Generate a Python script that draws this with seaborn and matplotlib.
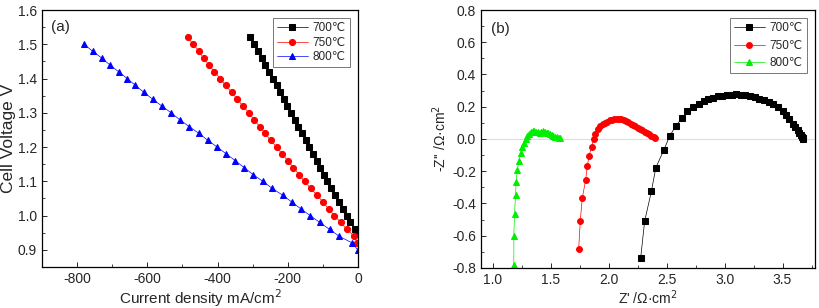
import numpy as np
import pandas as pd
import seaborn as sns
import matplotlib
matplotlib.use('Agg')
import matplotlib.pyplot as plt
from matplotlib.ticker import MultipleLocator

# (a) polarisation curves: current density (mA/cm2) vs cell voltage (V)
i_700 = [-307, -296, -285, -274, -264, -253, -242, -232, -223, -211,
         -202, -191, -180, -170, -160, -149, -139, -128, -118, -107,
         -96, -87, -77, -66, -54, -44, -32, -23, -8, -2]
v_700 = [1.52, 1.50, 1.48, 1.46, 1.44, 1.42, 1.40, 1.38, 1.36, 1.34,
         1.32, 1.30, 1.28, 1.26, 1.24, 1.22, 1.20, 1.18, 1.16, 1.14,
         1.12, 1.10, 1.08, 1.06, 1.04, 1.02, 1.00, 0.98, 0.96, 0.945]

i_750 = [-485, -469, -453, -440, -425, -409, -392, -377, -360, -344,
         -328, -311, -296, -280, -264, -249, -232, -216, -200, -184,
         -168, -152, -135, -117, -100, -84, -67, -49, -32, -11, -2]
v_750 = [1.52, 1.50, 1.48, 1.46, 1.44, 1.42, 1.40, 1.38, 1.36, 1.34,
         1.32, 1.30, 1.28, 1.26, 1.24, 1.22, 1.20, 1.18, 1.16, 1.14,
         1.12, 1.10, 1.08, 1.06, 1.04, 1.02, 1.00, 0.98, 0.96, 0.94, 0.92]

i_800 = [-780, -756, -730, -707, -682, -657, -634, -610, -585, -559,
         -532, -508, -481, -453, -428, -401, -375, -349, -324, -299,
         -271, -245, -215, -189, -163, -136, -109, -81, -54, -16, -1]
v_800 = [1.50, 1.48, 1.46, 1.44, 1.42, 1.40, 1.38, 1.36, 1.34, 1.32,
         1.30, 1.28, 1.26, 1.24, 1.22, 1.20, 1.18, 1.16, 1.14, 1.12,
         1.10, 1.08, 1.06, 1.04, 1.02, 1.00, 0.98, 0.96, 0.94, 0.92, 0.90]

# (b) impedance spectra: Z' vs -Z'' (ohm cm2)
zr_700 = [2.277, 2.311, 2.37, 2.407, 2.476, 2.527, 2.579, 2.634, 2.68, 2.729,
          2.78, 2.82, 2.86, 2.90, 2.94, 2.98, 3.02, 3.06, 3.10, 3.14,
          3.18, 3.22, 3.26, 3.30, 3.34, 3.38, 3.42, 3.46, 3.50, 3.53,
          3.56, 3.59, 3.61, 3.63, 3.645, 3.66, 3.668, 3.674, 3.678]
zi_700 = [-0.736, -0.51, -0.322, -0.179, -0.069, 0.018, 0.08, 0.131, 0.173, 0.2,
          0.22, 0.236, 0.248, 0.257, 0.264, 0.269, 0.273, 0.275, 0.276, 0.275,
          0.272, 0.267, 0.26, 0.251, 0.24, 0.228, 0.214, 0.198, 0.175, 0.15,
          0.122, 0.095, 0.075, 0.055, 0.038, 0.024, 0.014, 0.007, 0.003]

zr_750 = [1.742, 1.756, 1.773, 1.802, 1.817, 1.831, 1.854, 1.871, 1.886, 1.909,
          1.93, 1.95, 1.97, 1.99, 2.01, 2.03, 2.05, 2.07, 2.09, 2.11,
          2.13, 2.15, 2.17, 2.19, 2.21, 2.23, 2.25, 2.27, 2.29, 2.31,
          2.33, 2.35, 2.37, 2.39, 2.40]
zi_750 = [-0.684, -0.508, -0.367, -0.256, -0.167, -0.105, -0.049, 0.003, 0.034, 0.065,
          0.078, 0.09, 0.1, 0.108, 0.115, 0.119, 0.122, 0.123, 0.123, 0.121,
          0.117, 0.11, 0.103, 0.095, 0.087, 0.079, 0.07, 0.062, 0.054, 0.046,
          0.038, 0.029, 0.02, 0.012, 0.007]

zr_800 = [1.183, 1.183, 1.189, 1.198, 1.203, 1.212, 1.227, 1.241, 1.255, 1.27,
          1.284, 1.30, 1.315, 1.33, 1.345, 1.36, 1.375, 1.39, 1.405, 1.42,
          1.435, 1.45, 1.465, 1.48, 1.495, 1.51, 1.525, 1.54, 1.555, 1.57, 1.58]
zi_800 = [-0.784, -0.603, -0.463, -0.345, -0.266, -0.194, -0.138, -0.09, -0.049, -0.024,
          0.003, 0.02, 0.032, 0.042, 0.048, 0.05, 0.046, 0.042, 0.04, 0.043,
          0.048, 0.045, 0.04, 0.036, 0.03, 0.024, 0.018, 0.014, 0.01, 0.007, 0.005]

labels = ['700\u2103', '750\u2103', '800\u2103']

sns.set_theme(style='white')
plt.rcParams['font.family'] = ['Liberation Sans', 'DejaVu Sans']
plt.rcParams['axes.unicode_minus'] = False
plt.rcParams['xtick.direction'] = 'in'
plt.rcParams['ytick.direction'] = 'in'

fig = plt.figure(figsize=(8.2, 3.08), dpi=100)
ax1 = fig.add_axes([0.0512, 0.133, 0.3854, 0.8345])
ax2 = fig.add_axes([0.5866, 0.130, 0.4073, 0.8375])

left = [(i_700, v_700, 's', 'black', 4.0), (i_750, v_750, 'o', 'red', 4.4), (i_800, v_800, '^', 'blue', 4.6)]
for (x, y, m, c, ms), lab in zip(left, labels):
    sns.lineplot(x=x, y=y, ax=ax1, sort=False, estimator=None, color=c, lw=0.5,
                 marker=m, markersize=ms, markeredgecolor=c, label=lab)

right = [(zr_700, zi_700, 's', 'black', 3.9), (zr_750, zi_750, 'o', 'red', 4.2), (zr_800, zi_800, '^', '#00ee00', 4.4)]
ax2.axhline(0, color='#dddddd', lw=0.8, zorder=0)
for (x, y, m, c, ms), lab in zip(right, labels):
    sns.lineplot(x=x, y=y, ax=ax2, sort=False, estimator=None, color=c, lw=0.5,
                 marker=m, markersize=ms, markeredgecolor=c, label=lab)

ax1.set_xlim(-900, 0)
ax1.set_ylim(0.85, 1.6)
ax1.xaxis.set_major_locator(MultipleLocator(200))
ax1.xaxis.set_minor_locator(MultipleLocator(100))
ax1.yaxis.set_major_locator(MultipleLocator(0.1))
ax1.yaxis.set_minor_locator(MultipleLocator(0.05))
ax1.set_xlabel('Current density mA/cm$^2$', fontsize=11, labelpad=1)
ax1.set_ylabel('Cell Voltage V', fontsize=12.5, labelpad=1)
ax1.text(0.03, 0.92, '(a)', transform=ax1.transAxes, fontsize=11)

ax2.set_xlim(0.9, 3.78)
ax2.set_ylim(-0.8, 0.8)
ax2.xaxis.set_major_locator(MultipleLocator(0.5))
ax2.xaxis.set_minor_locator(MultipleLocator(0.25))
ax2.yaxis.set_major_locator(MultipleLocator(0.2))
ax2.yaxis.set_minor_locator(MultipleLocator(0.1))
ax2.set_xlabel("Z' /\u03a9\u00b7cm$^2$", fontsize=10, labelpad=1)
ax2.set_ylabel("-Z'' /\u03a9\u00b7cm$^2$", fontsize=10, labelpad=2)
ax2.text(0.03, 0.91, '(b)', transform=ax2.transAxes, fontsize=11)

for ax, sp in ((ax1, 0.2), (ax2, 0.45)):
    ax.tick_params(which='both', bottom=True, left=True, labelsize=10)
    ax.tick_params(which='major', length=3.5, width=0.7)
    ax.tick_params(which='minor', length=2, width=0.6)
    for s in ax.spines.values():
        s.set_color('black')
        s.set_linewidth(0.9)
    leg = ax.legend(loc='upper right', fontsize=8.5, frameon=True, fancybox=False,
                    handlelength=2.6, handletextpad=0.4, borderpad=0.35,
                    labelspacing=sp, borderaxespad=0.7)
    leg.get_frame().set_edgecolor('#555555')
    leg.get_frame().set_linewidth(0.7)

fig.savefig('out.png', dpi=100)
